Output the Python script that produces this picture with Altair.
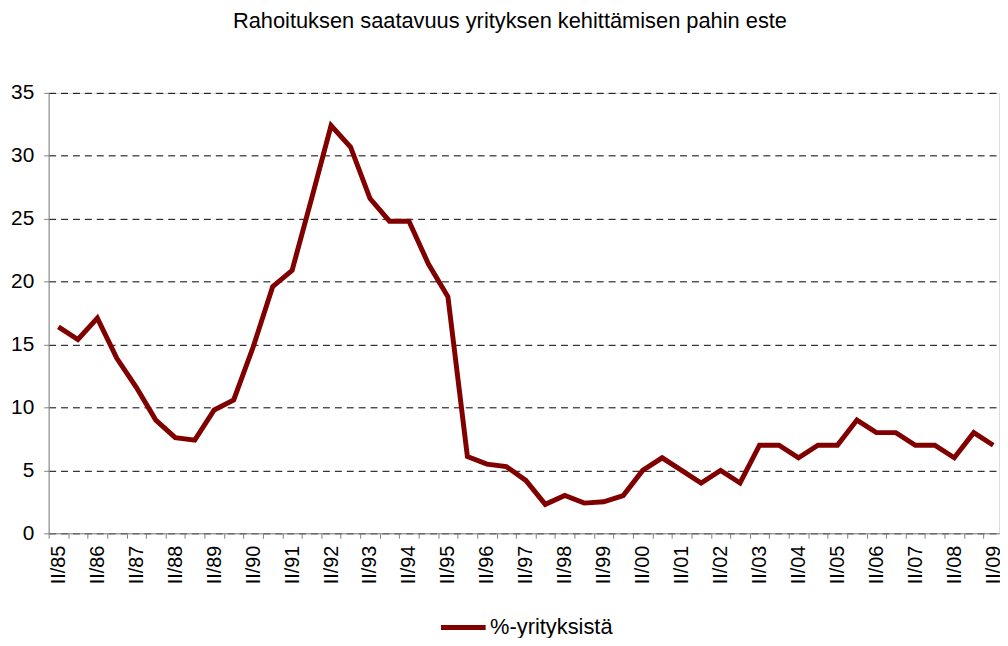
import altair as alt
import pandas as pd

periods = [
    "II/85", "I/86", "II/86", "I/87", "II/87", "I/88", "II/88", "I/89", "II/89",
    "I/90", "II/90", "I/91", "II/91", "I/92", "II/92", "I/93", "II/93", "I/94", "II/94",
    "I/95", "II/95", "I/96", "II/96", "I/97", "II/97", "I/98", "II/98", "I/99", "II/99",
    "I/00", "II/00", "I/01", "II/01", "I/02", "II/02", "I/03", "II/03", "I/04", "II/04",
    "I/05", "II/05", "I/06", "II/06", "I/07", "II/07", "I/08", "II/08", "I/09", "II/09",
]
values = [
    16.4, 15.4, 17.1, 13.9, 11.6, 9.0, 7.6, 7.4, 9.8,
    10.6, 14.8, 19.6, 20.9, 26.6, 32.4, 30.7, 26.6, 24.8, 24.8,
    21.4, 18.8, 6.1, 5.5, 5.3, 4.2, 2.3, 3.0, 2.4, 2.5,
    3.0, 5.0, 6.0, 5.0, 4.0, 5.0, 4.0, 7.0, 7.0, 6.0,
    7.0, 7.0, 9.0, 8.0, 8.0, 7.0, 7.0, 6.0, 8.0, 7.0,
]
series_name = "%-yrityksistä"
title_text = "Rahoituksen saatavuus yrityksen kehittämisen pahin este"
y_ticks = [0, 5, 10, 15, 20, 25, 30, 35]

df = pd.DataFrame({"period": periods, "value": values, "series": series_name})

FONT = "Liberation Sans"

chart = (
    alt.Chart(df)
    .mark_line(strokeWidth=5, strokeJoin="miter", strokeCap="butt")
    .encode(
        x=alt.X(
            "period:N",
            sort=periods,
            bandPosition=0.5,
            scale=alt.Scale(type="band", paddingInner=0, paddingOuter=0, range=[0, 962]),
            axis=alt.Axis(
                title=None,
                tickBand="extent",
                labelAngle=270,
                labelAlign="right",
                labelBaseline="middle",
                labelFontSize=20,
                labelFont=FONT,
                labelColor="#000000",
                labelPadding=7,
                labelOverlap=False,
                labelExpr="indexof(datum.label, 'II/') == 0 ? datum.label : ''",
                tickSize=5,
                tickColor="#808080",
                domainColor="#808080",
                grid=False,
            ),
        ),
        y=alt.Y(
            "value:Q",
            scale=alt.Scale(domain=[0, 35], nice=False, zero=True),
            axis=alt.Axis(
                title=None,
                values=y_ticks,
                labelFontSize=21,
                labelFont=FONT,
                labelColor="#000000",
                labelPadding=10,
                tickSize=5,
                tickColor="#808080",
                domainColor="#808080",
                grid=True,
                gridColor="#000000",
                gridDash=[7, 5],
                gridWidth=1,
            ),
        ),
        color=alt.Color(
            "series:N",
            scale=alt.Scale(domain=[series_name], range=["#800000"]),
            legend=alt.Legend(
                title=None,
                orient="none",
                legendX=393,
                legendY=514,
                symbolType="stroke",
                symbolStrokeWidth=5,
                symbolSize=2025,
                labelFontSize=22,
                labelFont=FONT,
                labelColor="#000000",
                labelOffset=2,
            ),
        ),
    )
    .properties(
        width=958,
        height=444,
        title=alt.TitleParams(
            text=title_text,
            fontSize=22,
            font=FONT,
            fontWeight="normal",
            color="#000000",
            anchor="middle",
            dx=-14,
            offset=49,
        ),
        autosize=alt.AutoSizeParams(type="none"),
        padding={"left": 41, "top": 83, "right": 1, "bottom": 103},
    )
    .configure_view(stroke=None)
    .configure(background="#ffffff")
)

chart.save("out.html", embed_options={"renderer": "svg", "actions": False})
